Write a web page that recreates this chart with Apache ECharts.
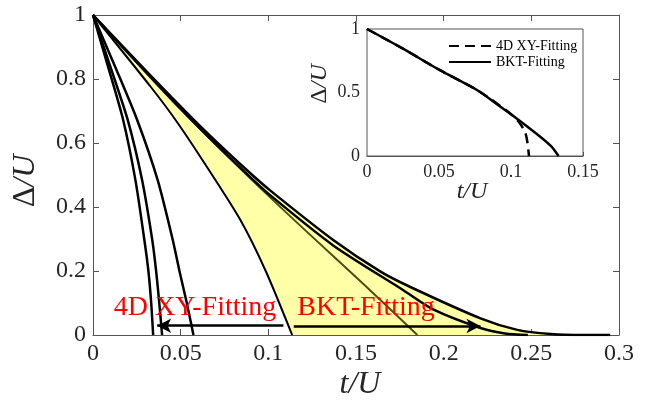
<!DOCTYPE html>
<html>
<head>
<meta charset="utf-8">
<script src="https://cdn.jsdelivr.net/npm/echarts@6/dist/echarts.min.js"></script>
<style>
html, body { margin: 0; padding: 0; background: #fff; }
#chart { width: 645px; height: 407px; }
</style>
</head>
<body>
<div id="chart"></div>
<script>
// main panel, points are [t/U, Δ/U]
var fit4dA = [[0, 1], [0.0085, 0.84], [0.0172, 0.672], [0.0242, 0.484], [0.0293, 0.297], [0.0316, 0.2], [0.0332, 0.1], [0.0343, 0]];
var fit4dB = [[0, 1], [0.0098, 0.84], [0.0198, 0.672], [0.028, 0.484], [0.0338, 0.297], [0.036, 0.2], [0.0378, 0.1], [0.0394, 0]];
var fit4dC = [[0, 1], [0.0125, 0.84], [0.0252, 0.672], [0.0369, 0.484], [0.0455, 0.297], [0.0493, 0.2], [0.0535, 0.1], [0.0573, 0]];

// yellow band edges
var bandLeft = [[0, 1], [0.033, 0.775], [0.048, 0.665], [0.065, 0.525], [0.084, 0.36], [0.0985, 0.2], [0.1136, 0]];
var bandRight = [[0, 1], [0.033, 0.81], [0.062, 0.648], [0.088, 0.514], [0.101, 0.452], [0.137, 0.297], [0.164, 0.198], [0.181, 0.15], [0.221, 0.052], [0.242, 0.016], [0.261, 0.003], [0.28, 0], [0.295, 0]];
var bktInner = [[0, 1], [0.033, 0.805], [0.062, 0.64], [0.088, 0.502], [0.101, 0.437], [0.137, 0.28], [0.177, 0.14], [0.194, 0.08], [0.221, 0.022], [0.235, 0.005], [0.248, 0]];
var bktFaint = [[0, 1], [0.05, 0.705], [0.101, 0.43], [0.158, 0.14], [0.185, 0]];

// arrows under the red labels
var arrow4dFrom = [0.1086, 0.029];
var arrow4dTo = [0.0366, 0.029];
var arrowBktFrom = [0.1145, 0.028];
var arrowBktTo = [0.221, 0.028];

// inset
var insetXY = [[0, 1], [0.025, 0.845], [0.05, 0.68], [0.0764, 0.52], [0.09, 0.415], [0.1, 0.33], [0.106, 0.26], [0.11, 0.18], [0.1115, 0.1], [0.1125, 0]];
var insetBKT = [[0, 1], [0.025, 0.845], [0.05, 0.68], [0.0764, 0.52], [0.09, 0.41], [0.1007, 0.323], [0.1203, 0.152], [0.128, 0.075], [0.133, 0]];
var legendNames = ['4D XY-Fitting', 'BKT-Fitting'];

var serif = "'Liberation Serif', 'Times New Roman', serif";
var axisGray = '#555';
var chart = echarts.init(document.getElementById('chart'));

function axis(grid, min, max, step, pos, labels, size, tick) {
  return {
    type: 'value', gridIndex: grid, min: min, max: max, interval: step, position: pos,
    axisLine: { show: true, onZero: false, lineStyle: { color: axisGray, width: 1 } },
    axisTick: { show: true, inside: true, length: tick, lineStyle: { color: axisGray } },
    axisLabel: { show: labels, fontFamily: serif, fontSize: size, color: '#262626', margin: 7 },
    splitLine: { show: false }
  };
}

function curve(name, data, color, width, z, xi) {
  return {
    name: name, type: 'line', data: data, xAxisIndex: xi || 0, yAxisIndex: xi || 0,
    showSymbol: false, symbol: 'none', smooth: 0.25, z: z,
    lineStyle: { color: color, width: width }, silent: true
  };
}

function textEl(x, y, text, size, color, italic) {
  return {
    type: 'text', x: x, y: y, z: 20, silent: true,
    style: {
      text: text, fill: color, fontFamily: serif, fontSize: size,
      fontStyle: italic ? 'italic' : 'normal', align: 'center', verticalAlign: 'middle'
    }
  };
}

function deltaLabel(x, y, size) {
  return {
    type: 'text', x: x, y: y, z: 20, rotation: Math.PI / 2, silent: true,
    style: {
      text: '{a|Δ}{b|/U}', align: 'center', verticalAlign: 'middle',
      rich: {
        a: { fontFamily: serif, fontSize: size, fill: '#262626' },
        b: { fontFamily: serif, fontSize: size, fontStyle: 'italic', fill: '#262626' }
      }
    }
  };
}

var faint = curve('faint', bktFaint, '#4d4d14', 2, 3);
faint.markLine = {
  silent: true, animation: false, symbol: ['none', 'arrow'], symbolSize: [11, 14],
  label: { show: false },
  lineStyle: { color: '#000', width: 2.5, type: 'solid' },
  data: [
    [{ coord: arrow4dFrom }, { coord: arrow4dTo }],
    [{ coord: arrowBktFrom }, { coord: arrowBktTo }]
  ]
};

var inXY = curve(legendNames[0], insetXY, '#000', 2.5, 5, 2);
inXY.lineStyle.type = [10, 6];
var inBKT = curve(legendNames[1], insetBKT, '#000', 2.5, 5, 2);

var option = {
  animation: false,
  backgroundColor: '#fff',
  grid: [
    { left: 93, top: 15, width: 526, height: 320 },
    { left: 367, top: 29, width: 216, height: 127, show: true, backgroundColor: '#fff', borderColor: axisGray, borderWidth: 1, z: 4 }
  ],
  xAxis: [
    axis(0, 0, 0.3, 0.05, 'bottom', true, 24, 6),
    axis(0, 0, 0.3, 0.05, 'top', false, 24, 6),
    axis(1, 0, 0.15, 0.05, 'bottom', true, 18, 4)
  ],
  yAxis: [
    axis(0, 0, 1, 0.2, 'left', true, 24, 6),
    axis(0, 0, 1, 0.2, 'right', false, 24, 6),
    axis(1, 0, 1, 0.5, 'left', true, 18, 4)
  ],
  legend: {
    data: legendNames, orient: 'vertical', left: 448, top: 39, padding: 0,
    itemWidth: 42, itemHeight: 14, itemGap: 2, selectedMode: false,
    itemStyle: { opacity: 0 },
    textStyle: { fontFamily: serif, fontSize: 14, color: '#000' }
  },
  series: [
    {
      type: 'custom', name: 'band', data: [[0, 0]], z: 1, silent: true,
      renderItem: function (params, api) {
        var pts = bandLeft.concat(bandRight.slice().reverse()).map(function (p) { return api.coord(p); });
        return { type: 'polygon', shape: { points: pts }, style: { fill: '#ffffa8', stroke: null } };
      }
    },
    faint,
    curve('left', bandLeft, '#000', 2, 4),
    curve('right', bandRight, '#000', 2.5, 4),
    curve('inner', bktInner, '#000', 2.5, 4),
    curve('xyA', fit4dA, '#000', 2.5, 4),
    curve('xyB', fit4dB, '#000', 2.5, 4),
    curve('xyC', fit4dC, '#000', 2.5, 4),
    inXY,
    inBKT
  ],
  graphic: [
    textEl(195, 308, '4D XY-Fitting', 28, '#ff0000'),
    textEl(366, 308, 'BKT-Fitting', 28, '#ff0000'),
    deltaLabel(26, 181, 32),
    textEl(360, 385, 't/U', 32, '#262626', true),
    deltaLabel(320, 84, 24),
    textEl(472, 192, 't/U', 24, '#262626', true)
  ]
};

chart.setOption(option);
</script>
</body>
</html>
